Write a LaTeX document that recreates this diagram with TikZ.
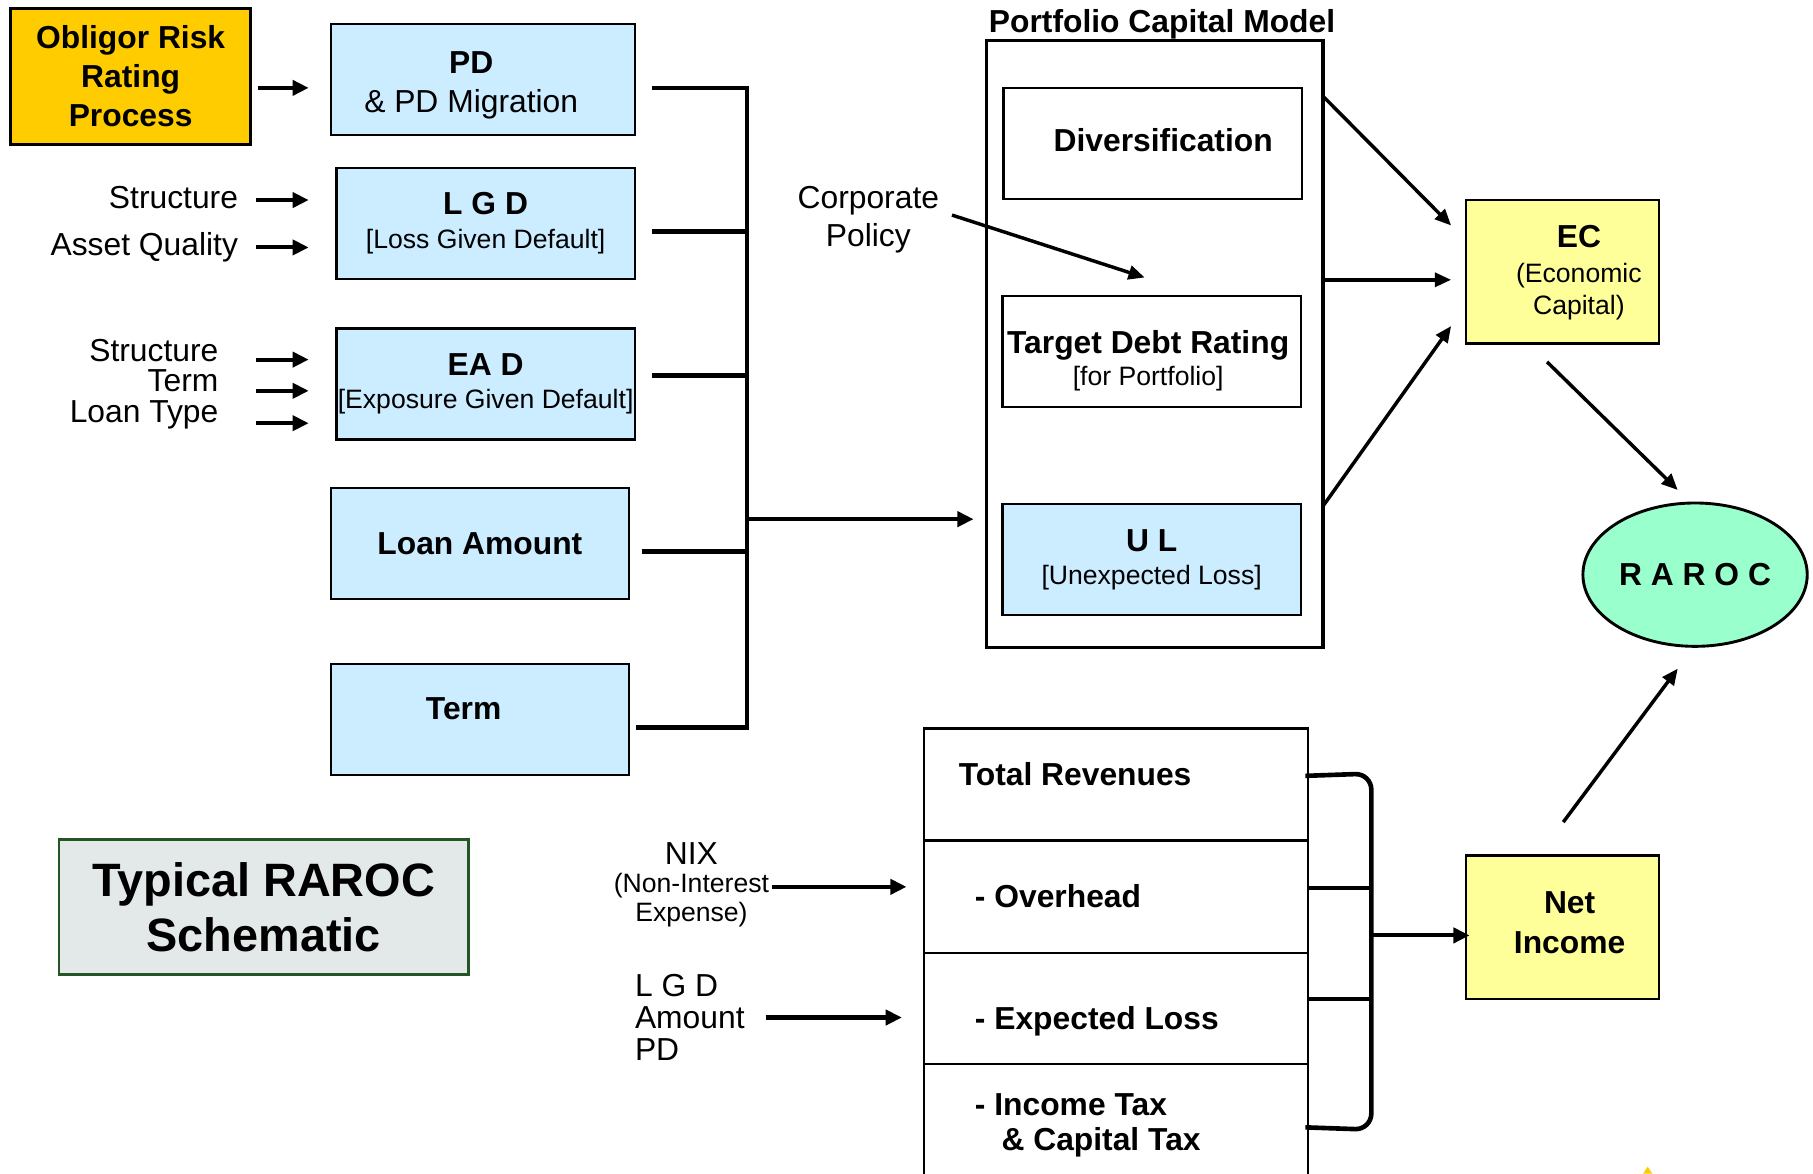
\documentclass[tikz,border=0pt]{standalone}
\usepackage{fontspec}
\setmainfont{Liberation Sans}
\usetikzlibrary{arrows.meta,calc,shapes.geometric}

\definecolor{gold}{HTML}{FFCC00}
\definecolor{paleblue}{HTML}{CCECFF}
\definecolor{paleyellow}{HTML}{FFFF99}
\definecolor{mint}{HTML}{99FFCC}
\definecolor{slate}{HTML}{E3E9E9}
\definecolor{darkgreen}{HTML}{245524}

\newcommand\fs[2]{\fontsize{#1}{#2}\selectfont}

\begin{document}
\begin{tikzpicture}[x=1pt,y=-1pt,
  box/.style={draw=black, line width=2pt, inner sep=0pt, align=center, font=\fs{27.5}{33.5}},
  bluebox/.style={box, fill=paleblue},
  whitebox/.style={box, fill=white},
  yellowbox/.style={box, fill=paleyellow},
  std/.style={minimum width=258pt, minimum height=96pt},
  lbl/.style={align=center, inner sep=0pt},
  txt/.style={inner sep=0pt, font=\fs{27.5}{33.5}},
  arr/.style={line width=3.5pt, -{Triangle[length=14pt,width=13pt]}},
  darr/.style={line width=3pt, -{Triangle[length=14pt,width=12pt]}},
  bus/.style={line width=4pt, line join=miter}]

\useasboundingbox (0,0) rectangle (1568,1015);
\fill[white] (0,0) rectangle (1568,1015);

% ---------- input boxes ----------
\node[box, fill=gold, line width=2.5pt, minimum width=208pt, minimum height=118pt,
      font=\fs{27.5}{33.5}\bfseries] (orr) at (113,66) {Obligor Risk\\Rating\\Process};

\node[bluebox, minimum width=263pt, minimum height=96pt,
      label={[lbl, xshift=-10pt, yshift=-5pt, font=\fs{27.5}{33.5}]center:{\textbf{PD}\\\& PD Migration}}] (pd) at (417.5,69) {};

\node[bluebox, std, font=\fs{27.5}{30}] (lgd) at (420,193)
      {\textbf{L G D}\\{\fs{23}{28}[Loss Given Default]}};

\node[bluebox, std, font=\fs{27.5}{29}] (ead) at (420,332)
      {\textbf{EA D}\\{\fs{23}{28}[Exposure Given Default]}};

\node[bluebox, std] (loan) at (415,470) {\textbf{Loan Amount}};

\node[bluebox, std,
      label={[lbl, xshift=-14pt, yshift=9pt, font=\fs{27.5}{33.5}\bfseries]center:Term}] (term) at (415,622) {};

% ---------- input labels ----------
\node[txt, anchor=base east] (str1) at (206,180) {Structure};
\node[txt, anchor=base east] (aq) at (206,221) {Asset Quality};
\node[txt, align=right, anchor=east, font=\fs{27.5}{26.5}] (eadin) at (189,332) {Structure\\Term\\Loan Type};

\draw[arr] ($(orr.east)+(5,10)$) -- ($(pd.west)+(-18,7)$);
\draw[arr] ($(lgd.west)+(-69,-20)$) -- ($(lgd.west)+(-23,-20)$);
\draw[arr] ($(lgd.west)+(-69,21)$) -- ($(lgd.west)+(-23,21)$);
\draw[arr] ($(ead.west)+(-69,-21)$) -- ($(ead.west)+(-23,-21)$);
\draw[arr] ($(ead.west)+(-69,6)$) -- ($(ead.west)+(-23,6)$);
\draw[arr] ($(ead.west)+(-69,34)$) -- ($(ead.west)+(-23,34)$);

% ---------- collecting bus ----------
\coordinate (busTop) at (646,76);
\coordinate (busBot) at (646,629);
\draw[bus] ($(pd.east)+(14,7)$) -- (busTop) -- (busBot) -- ($(term.east)+(5,7)$);
\draw[bus] ($(lgd.east)+(14,7)$) -- (646,200);
\draw[bus] ($(ead.east)+(14,-7)$) -- (646,325);
\draw[bus] ($(loan.east)+(10,7)$) -- (646,477);

% ---------- portfolio capital model ----------
\node[draw=black, line width=3pt, minimum width=291pt, minimum height=525pt, inner sep=0pt] (pcm) at (998.5,297.5) {};
\node[txt, font=\fs{27.5}{33.5}\bfseries, anchor=base] (pcmt) at (1005,28) {Portfolio Capital Model};

\node[whitebox, std,
      label={[lbl, xshift=9pt, yshift=3pt, font=\fs{27.5}{33.5}\bfseries]center:Diversification}] (div) at (997,124) {};
\node[whitebox, std,
      label={[lbl, xshift=-3pt, yshift=-8pt, font=\fs{27.5}{28}]center:{\textbf{Target Debt Rating}\\{\fs{23}{28}[for Portfolio]}}}] (tdr) at (996,304) {};
\node[bluebox, std, font=\fs{27.5}{29}] (ul) at (996,484)
      {\textbf{U L}\\{\fs{23}{28}[Unexpected Loss]}};

\draw[arr] (646,449) -- ($(ul.west)+(-24,-35)$);

\node[txt, align=center] (cp) at (751,190) {Corporate\\Policy};
\draw[darr] ($(cp.east)+(11,-4)$) -- ($(tdr.north)+(-6,-15)$);

% ---------- economic capital and RAROC ----------
\node[yellowbox, minimum width=167pt, minimum height=124pt,
      label={[lbl, xshift=14pt, yshift=-1pt, font=\fs{27.5}{30}]center:{\textbf{EC}\\{\fs{23}{28}(Economic}\\[-2pt]{\fs{23}{28}Capital)}}}] (ec) at (1351.5,235) {};

\coordinate (pcmA) at (1144,83);
\coordinate (pcmB) at (1144,242);
\coordinate (pcmC) at (1144,438);
\draw[darr] (pcmA) -- ($(ec.west)+(-12,-40)$);
\draw[darr] (pcmB) -- ($(ec.west)+(-12,7)$);
\draw[darr] (pcmC) -- ($(ec.west)+(-12,47)$);

\node[ellipse, draw=black, line width=2.5pt, fill=mint, minimum width=194pt, minimum height=124pt,
      inner sep=0pt, font=\fs{27.5}{33.5}\bfseries] (raroc) at (1466,497) {R A R O C};

\draw[darr] ($(ec.south)+(-13.5,15)$) -- ($(raroc.north)+(-15,-10)$);

\node[yellowbox, minimum width=167pt, minimum height=124pt,
      label={[lbl, xshift=6pt, yshift=4pt, font=\fs{27.5}{34}\bfseries]center:{Net\\Income}}] (ni) at (1351.5,802) {};
\draw[darr] ($(ni.north)+(0.5,-28)$) -- ($(raroc.south)+(-15,18)$);

% ---------- income statement ----------
\node[whitebox, minimum width=332pt, minimum height=97pt] (rev) at (965,678.5) {};
\node[whitebox, minimum width=332pt, minimum height=97pt] (ovh) at (965,775.5) {};
\node[whitebox, minimum width=332pt, minimum height=96pt] (el) at (965,872) {};
\node[whitebox, minimum width=332pt, minimum height=130pt] (tax) at (965,985) {};

\node[txt, font=\fs{27.5}{33.5}\bfseries, anchor=base west] at (829,679) {Total Revenues};
\node[txt, font=\fs{27.5}{33.5}\bfseries, anchor=base west] at (843,785) {- Overhead};
\node[txt, font=\fs{27.5}{33.5}\bfseries, anchor=base west] at (843,890) {- Expected Loss};
\node[txt, font=\fs{27.5}{30}\bfseries, anchor=base west, align=left] at (843,965) {- Income Tax};
\node[txt, font=\fs{27.5}{30}\bfseries, anchor=base west, align=left] at (866,995) {\& Capital Tax};

\draw[bus, rounded corners=14pt] ($(rev.east)+(-3,-7.5)$) -- (1186,669) -- (1186,977) -- ($(tax.east)+(-3,-10)$);
\draw[bus] ($(ovh.east)+(0,-7.5)$) -- (1186,768);
\draw[bus] ($(el.east)+(0,-8)$) -- (1186,864);
\draw[arr] (1186,809) -- ($(ni.west)+(4,7)$);

\node[txt, align=center, font=\fs{27.5}{24.5}] (nix) at (598,765)
      {NIX\\{\fs{23}{24}(Non-Interest}\\{\fs{23}{24}Expense)}};
\draw[arr] ($(nix.east)+(2,2)$) -- ($(ovh.west)+(-14,-8.5)$);

\node[txt, align=left, anchor=west, font=\fs{27.5}{27.5}] (elin) at (549,880) {L G D\\Amount\\PD};
\draw[arr] ($(elin.east)+(18,0)$) -- ($(el.west)+(-18,8)$);

% ---------- title ----------
\node[draw=darkgreen, line width=2.5pt, fill=slate, minimum width=354pt, minimum height=117pt,
      inner sep=0pt, align=center, font=\fs{40.5}{48}\bfseries] (title) at (228,784.5) {Typical RAROC\\Schematic};

% small ornament cut by the lower edge
\fill[gold] (1421,1015) -- (1425,1009) -- (1429,1015) -- cycle;

\end{tikzpicture}
\end{document}
